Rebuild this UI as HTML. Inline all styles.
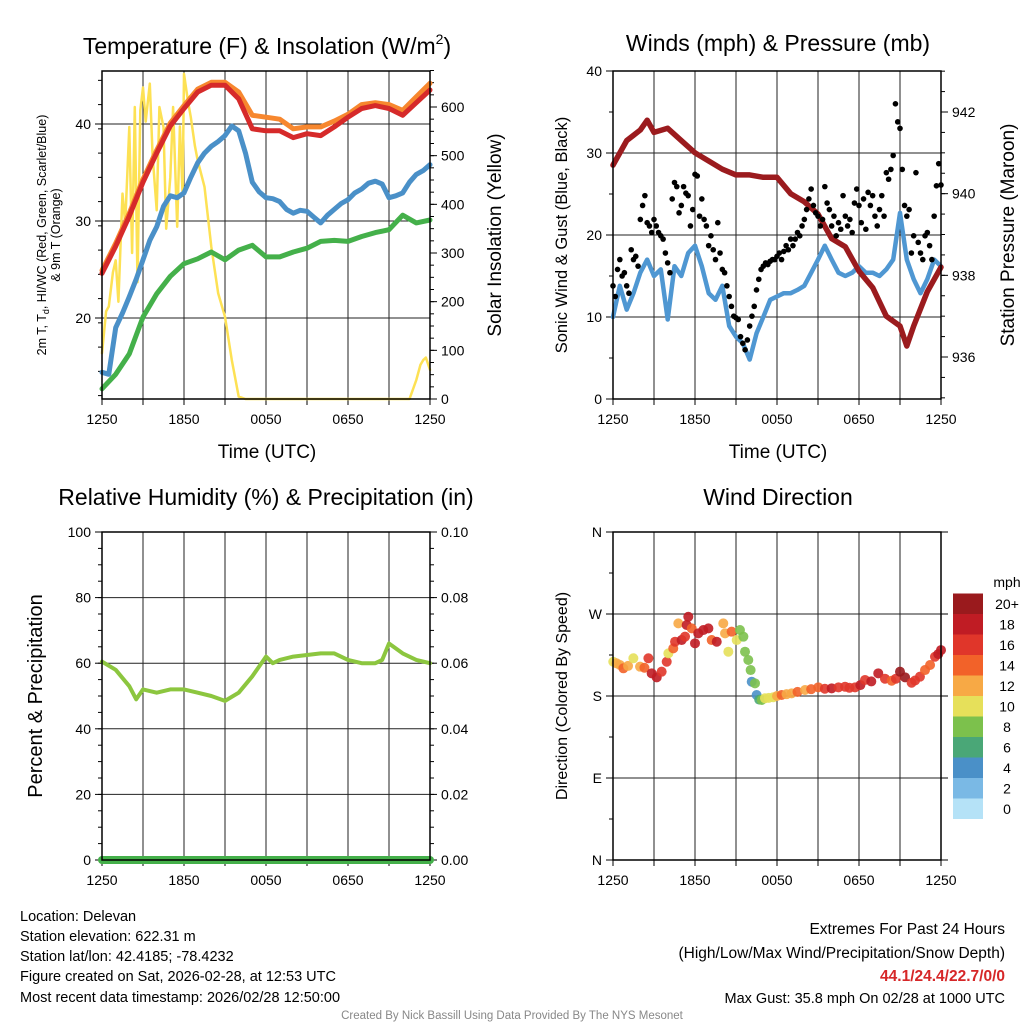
<!DOCTYPE html>
<html><head><meta charset="utf-8">
<style>
body{margin:0;background:#fff;}
svg text{font-family:"Liberation Sans",Arial,sans-serif;fill:#000;}
</style></head>
<body>
<svg id="chart" width="1024" height="1024" xmlns="http://www.w3.org/2000/svg">
<rect width="1024" height="1024" fill="#fff"/>
<text x="267" y="54" font-size="23" text-anchor="middle">Temperature (F) &amp; Insolation (W/m<tspan font-size="14" dy="-10">2</tspan><tspan dy="10">)</tspan></text>
<text x="778" y="51" font-size="23" text-anchor="middle">Winds (mph) &amp; Pressure (mb)</text>
<text x="266" y="505" font-size="23" text-anchor="middle">Relative Humidity (%) &amp; Precipitation (in)</text>
<text x="778" y="505" font-size="23" text-anchor="middle">Wind Direction</text>

<text font-size="12.5" text-anchor="middle" transform="translate(46,235) rotate(-90)">2m T, T<tspan font-size="9" dy="3">d</tspan><tspan dy="-3">, HI/WC (Red, Green, Scarlet/Blue)</tspan></text>
<text font-size="12.5" text-anchor="middle" transform="translate(60,235) rotate(-90)">&amp; 9m T (Orange)</text>
<text font-size="19" text-anchor="middle" transform="translate(501,235) rotate(-90)">Solar Insolation (Yellow)</text>
<text font-size="16.5" text-anchor="middle" transform="translate(567,235) rotate(-90)">Sonic Wind &amp; Gust (Blue, Black)</text>
<text font-size="19" text-anchor="middle" transform="translate(1014,235) rotate(-90)">Station Pressure (Maroon)</text>
<text font-size="20" text-anchor="middle" transform="translate(42,696) rotate(-90)">Percent &amp; Precipitation</text>
<text font-size="16" text-anchor="middle" transform="translate(567,696) rotate(-90)">Direction (Colored By Speed)</text>

<text x="267" y="458" font-size="19" text-anchor="middle">Time (UTC)</text>
<text x="778" y="458" font-size="19" text-anchor="middle">Time (UTC)</text>

<g font-size="14.5">
<text x="20" y="921">Location: Delevan</text>
<text x="20" y="941">Station elevation: 622.31 m</text>
<text x="20" y="961">Station lat/lon: 42.4185; -78.4232</text>
<text x="20" y="981">Figure created on Sat, 2026-02-28, at 12:53 UTC</text>
<text x="20" y="1002">Most recent data timestamp: 2026/02/28 12:50:00</text>
</g>
<g text-anchor="end">
<text x="1005" y="934" font-size="15.5">Extremes For Past 24 Hours</text>
<text x="1005" y="958" font-size="15.5">(High/Low/Max Wind/Precipitation/Snow Depth)</text>
<text x="1005" y="981" font-size="15.5" font-weight="bold" style="fill:#d62728">44.1/24.4/22.7/0/0</text>
<text x="1005" y="1003" font-size="14.5">Max Gust: 35.8 mph On 02/28 at 1000 UTC</text>
</g>
<text x="512" y="1019" font-size="11.5" text-anchor="middle" style="fill:#888">Created By Nick Bassill Using Data Provided By The NYS Mesonet</text>
<g id="layer"></g>
</svg>
<script>
// ---------- data ----------
const xTickLabels = ["1250","1850","0050","0650","1250"];
// Temperature panel (hourly, hours 0..24)
const tempRed = [24.6,27.4,30.5,34,37,39.8,41.6,43.3,44,44,42.6,39.5,39.3,39.3,38.6,39,38.8,39.7,40.7,41.6,41.9,41.6,40.9,42.2,43.5];
const tempOrange = [24.9,27.7,30.8,34.3,37.3,40.1,41.9,43.6,44.3,44.3,43.3,40.9,40.7,40.5,39.5,39.7,39.7,40.3,41,42,42.2,42,41.4,42.8,44.2];
const dewBlueHours = [0,0.5,1,1.5,2,2.5,3,3.5,4,4.5,5,5.5,6,6.5,7,7.5,8,8.5,9,9.5,10,10.5,11,11.5,12,12.5,13,13.5,14,14.5,15,15.5,16,16.5,17,17.5,18,18.5,19,19.5,20,20.5,21,21.5,22,22.5,23,23.5,24];
const dewBlue = [14.4,14.2,19,20.5,22.2,24,26,28,29.4,31.5,32.6,32.4,32.9,34.5,36,37,37.7,38.2,38.8,39.8,39.3,37,34,33,32.4,32.3,32,31.2,30.8,31.1,31,30.4,29.8,30.6,31.2,31.8,32.2,32.9,33.3,33.9,34.1,33.8,32.4,32.6,32.9,34,34.8,35.2,35.8];
const tempGreen = [12.7,14.2,16.3,20.1,22.5,24.3,25.6,26.1,26.8,26,27,27.5,26.3,26.3,26.8,27.2,27.9,28,27.9,28.4,28.8,29.1,30.6,29.8,30.1];
const solarHours = [0,0.3,0.5,0.8,1,1.2,1.5,1.7,2,2.2,2.4,2.6,2.8,3,3.2,3.5,3.7,4,4.2,4.5,4.7,5,5.2,5.5,5.7,5.9,6,6.3,6.5,6.8,7,7.5,8,8.5,9,9.5,10,10.5,22.5,23,23.3,23.5,23.7,24];
const solar = [94,180,190,260,285,200,422,360,559,300,600,240,593,640,570,648,500,388,600,559,350,456,600,354,560,420,668,610,579,520,490,436,313,217,169,80,5,0,0,39,70,80,85,60];
// Winds panel
const windHours = dewBlueHours;
const windBlue = [10,13.8,10.9,12.9,15.4,17,15,15.8,9.7,16.2,15,17.8,18.7,16.2,12.9,12.1,13.8,8.9,7.6,6.8,4.8,8,10,12.1,12.5,12.9,12.9,13.3,13.8,15.4,17,18.7,17,15.4,15,15.4,16.2,15.4,15.4,15,15.8,17,22.7,17,14.6,12.9,14.6,17,16.2];
const gust = [13.8,12.5,15.8,17,15,15.4,13.8,12.9,18.2,17,17.4,16.2,21.9,23.6,24.8,21.5,21.1,20.3,21.9,21.1,20.3,19.9,19.5,17.8,16.6,15.4,24.4,26.4,25.9,22.7,23.6,25.9,25.1,24.8,21.1,23.1,27.4,27.2,22.3,24.4,21.9,21.1,18.7,19.9,18.2,17,21.5,17.8,15.8,15.4,13.8,12.5,11.3,10.1,9.9,9.7,7.6,6.8,6,7.2,8.9,10.1,11.3,13.3,14.6,15.8,16.2,16.6,16.4,16.8,17,17,17.4,17.8,17,18,18.7,18.2,19.5,18.7,19.5,20.3,19.9,21.1,21.9,23.1,24.4,25.6,23.6,22.7,22.3,21.1,21.9,25.9,23.9,23.1,21.1,22.3,19.9,21.5,20.7,24.8,22.3,21.1,21.9,20.3,23.9,25.6,23.6,21.5,24.4,20.7,25.2,23.6,24.8,22.3,21.1,23.1,24.8,22.3,27.6,26.8,28,29.7,36,33.8,33,28,23.6,22.3,23.1,17.8,19.9,27.6,19.1,17.8,17,19.9,20.3,18.7,17,22.3,26,28.7,26.1];
const pressHours = [0,1,2,2.5,3,4,5,6,7,8,9,10,11,12,13,14,15,16,17,18,19,20,21,21.5,22,23,24];
const pressure = [940.7,941.3,941.56,941.8,941.5,941.6,941.3,941,940.8,940.6,940.46,940.46,940.4,940.4,940,939.8,939.5,938.9,938.7,938.1,937.7,937,936.76,936.27,936.76,937.6,938.2];
// Humidity panel
const rhHours = [0,1,2,2.5,3,4,5,6,7,8,9,10,11,12,12.5,13,14,15,16,17,18,19,20,20.5,21,22,23,24];
const rh = [60.5,58,53,49,52,51,52,52,51,50,48.5,51,56,62,60,61,62,62.5,63,63,61,60,60,61,66,63,61,60];
const precip = [0,0,0,0,0,0,0,0,0,0,0,0,0,0,0,0,0,0,0,0,0,0,0,0,0];
// Wind direction panel
const dirHours = [0.02,0.25,0.51,0.76,1.1,1.49,1.98,2.3,2.59,2.83,3.2,3.56,3.93,4.05,4.41,4.54,4.78,5.02,5.27,5.39,5.51,5.76,6,6.24,6.61,6.98,7.22,7.59,8.07,8.2,8.44,8.68,9.05,9.29,9.54,9.66,9.9,10.07,10.15,10.39,10.51,10.7,10.88,11.12,11.4,11.73,12,12.34,12.7,13.07,13.5,14.05,14.5,15.02,15.5,16,16.5,16.98,17.3,17.71,18.1,18.44,18.9,19.41,19.9,20.39,20.7,21,21.37,21.85,22.1,22.46,22.83,23.2,23.56,23.8,24];
const dirDeg = [217.6,216,214,210.4,213,221.4,212.2,211,221.4,204.9,200.5,206.7,217.6,226.8,232.3,239.6,259.7,241.4,245.1,257.9,267,254.2,237.8,248.8,252.4,254.2,241.4,239.6,259.7,248.8,228.6,250.6,241.4,252.4,245.1,228.6,219.5,208.5,195.7,193.9,181.1,176,175.6,177.5,178,178.6,180,181.1,182,182.9,184.5,186.6,187.5,189.5,188,188.4,189.5,190.2,189,189.5,192,197.6,196,204.9,199,196.8,199,206.7,200.5,194.6,197,201.2,208.5,214,223.1,226,230.4];
const dirSpeed = [10,11,12,13,12,10,12,14,16,17,18,16,16,10,14,16,12,17,16,18,18,13,18,18,18,17,14,17,12,11,10,14,9,7,8,8,7,7,4,7,4,6,8,9,10,10,11,13,12,12,13,12,13,14,16,17,16,15,16,16,17,16,17,17,16,14,16,19,20,16,16,16,14,13,16,17,18];
const cbLabels = ["0","2","4","6","8","10","12","14","16","18","20+"];
const cbColors = ["#b5e2f7","#7ab9e5","#4a90c8","#4aa777","#7cc14c","#e6e05a","#f7a945","#f26229","#e0362a","#c01c24","#9a1a1d"];

// ---------- helpers ----------
const NS="http://www.w3.org/2000/svg";
const layer=document.getElementById('layer');
function mk(tag,attrs,parent){const e=document.createElementNS(NS,tag);for(const k in attrs)e.setAttribute(k,attrs[k]);(parent||layer).appendChild(e);return e;}
function lin(d0,d1,r0,r1){return v=>r0+(v-d0)/(d1-d0)*(r1-r0);}

function panel(name,x0,x1,y0,y1){
  const g=mk('g',{});
  
  
  const xs=lin(0,24,x0,x1);
  // vertical grid every 3h
  for(let h=3;h<24;h+=3){
    const l=mk('line',{x1:xs(h),x2:xs(h),y1:y0,y2:y1,stroke:'#222','stroke-width':1},g);
    
    
  }
  for(let h=0;h<=24;h+=3){
    const t=mk('line',{x1:xs(h),x2:xs(h),y1:y1,y2:y1+6,stroke:'#000','stroke-width':1},g);
    
    
  }
  xTickLabels.forEach((s,i)=>{
    const t=mk('text',{x:xs(i*6),y:y1+25,'font-size':14,'text-anchor':'middle'},g);t.textContent=s;
    
    
  });
  return {g,xs};
}
function yAxis(g,scale,x,y0,y1,ticks,minor,side,fmt,showGrid,gx0,gx1){
  minor.forEach(v=>{const y=scale(v);if(y<y0-0.5||y>y1+0.5)return;
    const t=mk('line',{x1:x,x2:x+(side<0?-4:4),y1:y,y2:y,stroke:'#000','stroke-width':1},g);
    
    });
  ticks.forEach(v=>{const y=scale(v);
    const t=mk('line',{x1:x,x2:x+(side<0?-7:7),y1:y,y2:y,stroke:'#000','stroke-width':1},g);
    
    
    if(showGrid){const gl=mk('line',{x1:gx0,x2:gx1,y1:y,y2:y,stroke:'#222','stroke-width':1},g);
      
      }
    const tx=mk('text',{x:x+(side<0?-11:11),y:y+5,'font-size':14,'text-anchor':side<0?'end':'start'},g);tx.textContent=fmt(v);
    
    
  });
}
function line(g,xs,ys,hours,vals,color,w,name){
  const d=vals.map((v,i)=>(i?'L':'M')+xs(hours[i]).toFixed(1)+','+ys(v).toFixed(1)).join('');
  const p=mk('path',{d,fill:'none',stroke:color,'stroke-width':w,'stroke-linejoin':'round','stroke-linecap':'round'},g);
  
  
}
function box(g,x0,x1,y0,y1){const r=mk('rect',{x:x0,y:y0,width:x1-x0,height:y1-y0,fill:'none',stroke:'#000','stroke-width':1.5},g);
  
  }
const hrs25=[...Array(25).keys()];
function range(a,b,s){const r=[];for(let v=a;v<=b+1e-9;v+=s)r.push(+v.toFixed(4));return r;}

// ---------- panel 1: temperature ----------
{
  const X0=102,X1=430,Y0=71,Y1=399;
  const {g,xs}=panel('temperature-panel',X0,X1,Y0,Y1);
  const ys=lin(20,40,318,124);
  const ysR=lin(0,600,399,107);
  yAxis(g,ys,X0,Y0,Y1,[20,30,40],range(12,45,2.5),-1,v=>v,true,X0,X1);
  yAxis(g,ysR,X1,Y0,Y1,[0,100,200,300,400,500,600],range(0,675,25),1,v=>v,false);
  line(g,xs,ysR,solarHours,solar,'#fde154',2.5,'solar-insolation-line');
  line(g,xs,ys,hrs25,tempGreen,'#44b04a',5,'dewpoint-green-line');
  line(g,xs,ys,dewBlueHours,dewBlue,'#4a90c8',5,'windchill-blue-line');
  line(g,xs,ys,hrs25,tempOrange,'#f7872e',5,'temp-9m-orange-line');
  line(g,xs,ys,hrs25,tempRed,'#d62a2a',5,'temp-2m-red-line');
  box(g,X0,X1,Y0,Y1);
}
// ---------- panel 2: winds ----------
{
  const X0=613,X1=941,Y0=71,Y1=399;
  const {g,xs}=panel('wind-panel',X0,X1,Y0,Y1);
  const ys=lin(0,40,399,71);
  const ysR=lin(936,942,357,112);
  yAxis(g,ys,X0,Y0,Y1,[0,10,20,30,40],range(0,40,5),-1,v=>v,true,X0,X1);
  yAxis(g,ysR,X1,Y0,Y1,[936,938,940,942],range(935,943,0.5),1,v=>v,false);
  line(g,xs,ys,windHours,windBlue,'#4f97d2',4.5,'sonic-wind-line');
  line(g,xs,ysR,pressHours,pressure,'#9b1b1e',5.5,'station-pressure-line');
  gust.forEach((v,i)=>{const c=mk('circle',{cx:xs(i/6),cy:ys(v),r:2.8,fill:'#000'},g);
    
    });
  box(g,X0,X1,Y0,Y1);
}
// ---------- panel 3: humidity ----------
{
  const X0=102,X1=430,Y0=532,Y1=860;
  const {g,xs}=panel('humidity-panel',X0,X1,Y0,Y1);
  const ys=lin(0,100,860,532);
  const ysR=lin(0,0.1,860,532);
  yAxis(g,ys,X0,Y0,Y1,[0,20,40,60,80,100],range(0,100,5),-1,v=>v,true,X0,X1);
  yAxis(g,ysR,X1,Y0,Y1,[0,0.02,0.04,0.06,0.08,0.1],range(0,0.1,0.005),1,v=>v.toFixed(2),false);
  line(g,xs,ys,rhHours,rh,'#8cc63f',4,'relative-humidity-line');
  line(g,xs,ysR,hrs25,precip,'#44b04a',8,'precipitation-line');
  box(g,X0,X1,Y0,Y1);
}
// ---------- panel 4: wind direction ----------
{
  const X0=613,X1=941,Y0=532,Y1=860;
  const {g,xs}=panel('wind-direction-panel',X0,X1,Y0,Y1);
  const ys=lin(0,360,860,532);
  const names={0:'N',90:'E',180:'S',270:'W',360:'N'};
  yAxis(g,ys,X0,Y0,Y1,[0,90,180,270,360],range(0,360,45),-1,v=>names[v],true,X0,X1);
  const rt=[0,90,180,270,360];
  rt.forEach(v=>{const t=mk('line',{x1:X1,x2:X1+7,y1:ys(v),y2:ys(v),stroke:'#000'},g);
    
    });
  dirDeg.forEach((v,i)=>{
    const ci=Math.min(10,Math.round(dirSpeed[i]/2));
    const c=mk('circle',{cx:xs(dirHours[i]),cy:ys(v),r:5,fill:cbColors[ci],opacity:0.9},g);
    
    
  });
  box(g,X0,X1,Y0,Y1);
  // colorbar
  const cb=mk('g',{});
  
  
  const cy0=819,bh=20.5;
  cbColors.forEach((c,i)=>{
    const r=mk('rect',{x:953,y:cy0-(i+1)*bh,width:30,height:bh,fill:c},cb);
    
    
    const t=mk('text',{x:1007,y:cy0-(i+0.5)*bh+5,'font-size':14,'text-anchor':'middle'},cb);t.textContent=cbLabels[i];
    
    
  });
  const mt=mk('text',{x:1007,y:587,'font-size':14,'text-anchor':'middle'},cb);mt.textContent='mph';
  
  
}
</script>
</body></html>
